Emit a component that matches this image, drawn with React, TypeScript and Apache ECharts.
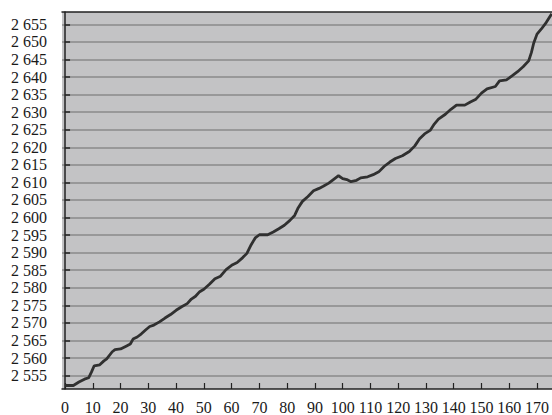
import React, { useEffect, useRef } from "react";
import * as echarts from "echarts";

const xValues = [
  0, 3, 5, 7, 8.5, 9.5, 10.5, 12.5, 14, 15, 17, 18, 20, 22, 23.5, 24.5, 26, 27.5, 29, 30.5,
  32, 34, 36, 38, 40, 42, 44, 45.5, 47, 48.5, 50, 52, 54, 56, 58, 60, 62, 64, 65.5, 67,
  68.5, 70, 73, 75, 77, 79, 81, 82.7, 84, 85.5, 87.5, 89.5, 91.5, 93, 95, 97, 98.5, 100,
  101.5, 103, 105, 106.5, 109, 111, 113, 115, 117, 119, 121.5, 124, 126, 127.7, 129.5,
  131.5, 133, 134.5, 137, 139, 141, 144, 146, 148, 150, 152, 155, 156.5, 159, 161, 163,
  165, 167, 168, 168.8, 170, 171.5, 173.3, 175.3,
];
const yValues = [
  2552.2, 2552.2, 2553.2, 2554.0, 2554.4, 2556.0, 2557.8, 2558.1, 2559.2, 2559.8, 2561.8,
  2562.4, 2562.6, 2563.4, 2564.0, 2565.4, 2566.0, 2566.9, 2568.0, 2569.0, 2569.4, 2570.3,
  2571.4, 2572.4, 2573.6, 2574.6, 2575.5, 2576.8, 2577.6, 2578.9, 2579.6, 2581.0, 2582.6,
  2583.3, 2585.2, 2586.4, 2587.2, 2588.6, 2589.8, 2592.2, 2594.2, 2595.1, 2595.1, 2595.9,
  2596.8, 2597.8, 2599.2, 2600.6, 2602.8, 2604.6, 2606.0, 2607.6, 2608.3, 2608.9, 2609.8,
  2611.0, 2611.9, 2611.1, 2610.8, 2610.2, 2610.6, 2611.3, 2611.6, 2612.2, 2613.0, 2614.6,
  2615.8, 2616.8, 2617.6, 2618.8, 2620.4, 2622.4, 2623.8, 2624.8, 2626.6, 2628.0, 2629.4,
  2630.8, 2632.0, 2632.0, 2632.9, 2633.7, 2635.4, 2636.6, 2637.3, 2638.9, 2639.2, 2640.3,
  2641.5, 2642.9, 2644.6, 2647.0, 2649.6, 2652.2, 2653.6, 2655.5, 2658.0,
];
const xTicks = [0, 10, 20, 30, 40, 50, 60, 70, 80, 90, 100, 110, 120, 130, 140, 150, 160, 170];
const yTicks = [
  2555, 2560, 2565, 2570, 2575, 2580, 2585, 2590, 2595, 2600, 2605, 2610, 2615, 2620, 2625,
  2630, 2635, 2640, 2645, 2650, 2655,
];

const fmtY = (v: number) => {
  const r = Math.round(v);
  return `${Math.floor(r / 1000)} ${String(r % 1000).padStart(3, "0")}`;
};

export default function App() {
  const ref = useRef<HTMLDivElement>(null);
  useEffect(() => {
    if (!ref.current) return;
    const chart = echarts.init(ref.current, undefined, { renderer: "svg" });
    const font = "'Liberation Serif', 'Times New Roman', serif";
    chart.setOption({
      animation: false,
      backgroundColor: "#ffffff",
      grid: {
        left: 62,
        top: 12,
        right: 0,
        bottom: 24.5,
        show: true,
        backgroundColor: "#c3c3c5",
        borderWidth: 0,
      },
      xAxis: [
        {
          type: "value",
          min: -1.1,
          max: 175.4,
          splitLine: { show: false },
          axisLine: { show: true, lineStyle: { color: "#222", width: 1.5 } },
          axisTick: {
            show: true,
            inside: true,
            length: 6,
            customValues: xTicks,
            lineStyle: { color: "#222", width: 1.2 },
          },
          axisLabel: {
            customValues: xTicks,
            margin: 10,
            color: "#1a1a1a",
            fontFamily: font,
            fontSize: 16,
            showMinLabel: true,
            showMaxLabel: true,
          },
        },
        {
          type: "value",
          position: "top",
          min: -1.1,
          max: 175.4,
          splitLine: { show: false },
          axisLine: { show: true, lineStyle: { color: "#222", width: 1.5 } },
          axisTick: { show: false },
          axisLabel: { show: false },
        },
      ],
      yAxis: {
        type: "value",
        min: 2551.2,
        max: 2658.5,
        axisLine: { show: true, lineStyle: { color: "#222", width: 1.5 } },
        axisTick: {
          show: true,
          inside: true,
          length: 5,
          customValues: yTicks,
          lineStyle: { color: "#222", width: 1.5 },
        },
        splitLine: {
          show: true,
          lineStyle: { color: "#8a8a8a", width: 1.5 },
        },
        axisLabel: {
          customValues: yTicks,
          margin: 15,
          color: "#1a1a1a",
          fontFamily: font,
          fontSize: 16,
          formatter: (v: number) => fmtY(v),
        },
      },
      series: [
        {
          type: "line",
          xAxisIndex: 0,
          data: xValues.map((x, i) => [x, yValues[i]]),
          showSymbol: false,
          lineStyle: { color: "#303030", width: 2.8 },
          clip: true,
        },
      ],
    });
    return () => chart.dispose();
  }, []);
  return (
    <div
      ref={ref}
      style={{ position: "fixed", left: 0, top: 0, width: 552, height: 415 }}
    />
  );
}
